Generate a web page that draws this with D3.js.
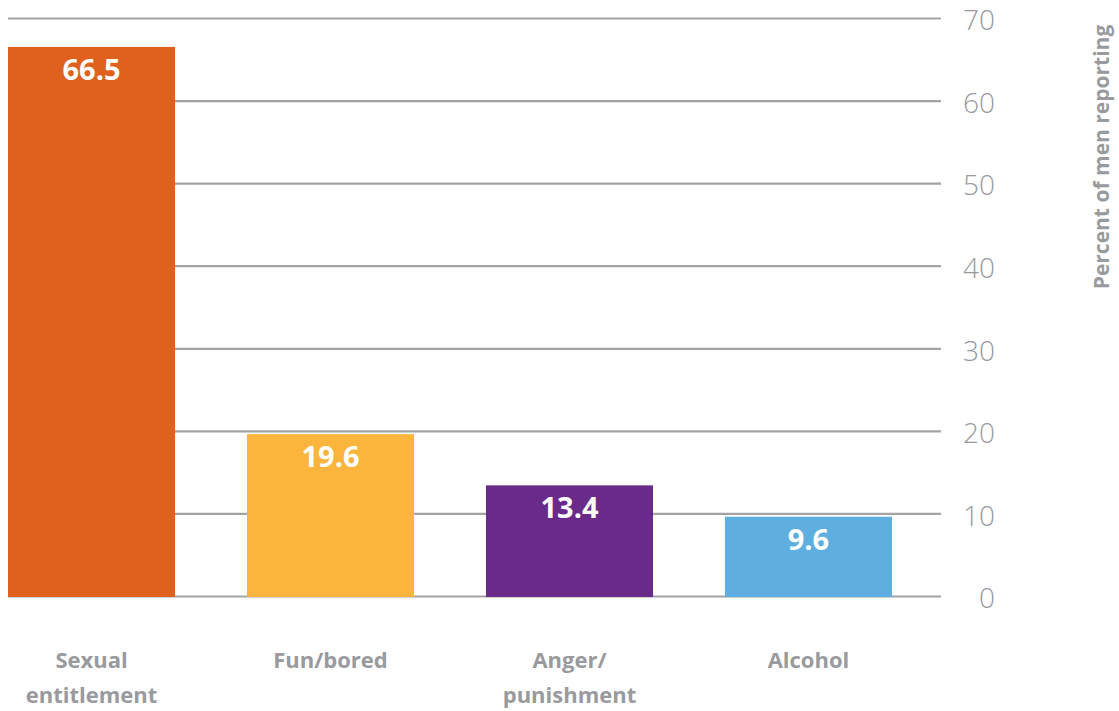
<!DOCTYPE html>
<html>
<head>
<meta charset="utf-8">
<script src="https://cdn.jsdelivr.net/npm/d3@7"></script>
<style>
  html, body { margin: 0; padding: 0; background: #fff; }
  svg { display: block; font-family: "Open Sans", "Noto Sans", sans-serif; }
</style>
</head>
<body>
<div id="chart"></div>
<script>
// Data
const categories = [["Sexual", "entitlement"], ["Fun/bored"], ["Anger/", "punishment"], ["Alcohol"]];
const values = [66.5, 19.6, 13.4, 9.6];
const barColors = ["#e0601e", "#fcb53c", "#6a2a8a", "#5faee0"];
const yTicks = [0, 10, 20, 30, 40, 50, 60, 70];
const axisTitle = "Percent of men reporting";

const width = 1119, height = 711;
const grey = "#999a9e";

const svg = d3.select("#chart")
  .append("svg")
  .attr("width", width)
  .attr("height", height);

// Scales
const x = d3.scaleBand()
  .domain(d3.range(values.length))
  .range([8, 892])
  .paddingInner(0.301)
  .paddingOuter(0);

const y = d3.scaleLinear()
  .domain([0, 70])
  .range([596, 18]);

// Gridlines + tick labels (axis on the right)
const yAxis = d3.axisRight(y)
  .tickValues(yTicks)
  .tickSize(941 - 8)
  .tickFormat(d3.format("d"));

const axisG = svg.append("g")
  .attr("transform", "translate(8,0)")
  .call(yAxis);

axisG.select(".domain").remove();
axisG.selectAll(".tick line")
  .attr("stroke", "#a3a3a6")
  .attr("stroke-width", 2.2);
axisG.selectAll(".tick text")
  .attr("x", 995 - 8)
  .attr("dy", "0.42em")
  .attr("text-anchor", "end")
  .attr("fill", grey)
  .attr("font-size", 28)
  .attr("font-weight", 300)
  .attr("font-family", "'Open Sans', sans-serif");

// Bars
svg.append("g")
  .selectAll("rect")
  .data(values)
  .join("rect")
  .attr("x", (d, i) => x(i))
  .attr("y", (d) => y(d))
  .attr("width", x.bandwidth())
  .attr("height", (d) => y(0) - y(d) + 1)
  .attr("fill", (d, i) => barColors[i]);

// Value labels inside bars
svg.append("g")
  .selectAll("text")
  .data(values)
  .join("text")
  .attr("x", (d, i) => x(i) + x.bandwidth() / 2)
  .attr("y", (d) => y(d) + 33)
  .attr("text-anchor", "middle")
  .attr("fill", "#fff")
  .attr("font-size", 29)
  .attr("font-weight", 700)
  .text((d) => d.toFixed(1));

// Category labels
const catG = svg.append("g")
  .selectAll("text")
  .data(categories)
  .join("text")
  .attr("x", (d, i) => x(i) + x.bandwidth() / 2)
  .attr("y", 668)
  .attr("text-anchor", "middle")
  .attr("fill", grey)
  .attr("font-size", 22)
  .attr("font-weight", 700);

catG.selectAll("tspan")
  .data((d) => d)
  .join("tspan")
  .attr("x", function () { return this.parentNode.getAttribute("x"); })
  .attr("dy", (d, i) => (i === 0 ? 0 : 35))
  .text((d) => d);

// Axis title
svg.append("text")
  .attr("transform", "translate(1101,157) rotate(-90)")
  .attr("text-anchor", "middle")
  .attr("dominant-baseline", "central")
  .attr("fill", grey)
  .attr("font-size", 21)
  .attr("font-weight", 700)
  .text(axisTitle);
</script>
</body>
</html>
